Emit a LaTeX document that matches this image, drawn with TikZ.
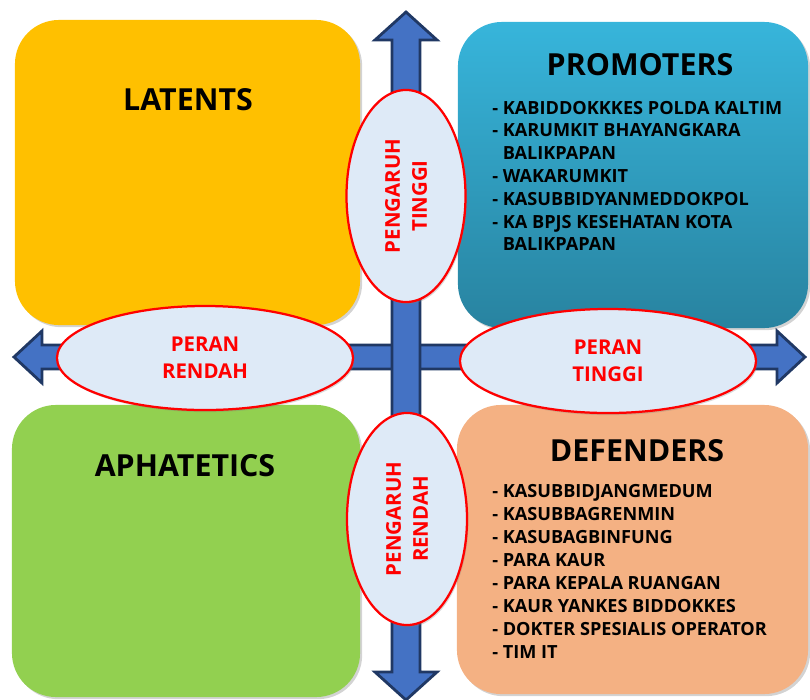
\documentclass[tikz,border=0pt]{standalone}
\usepackage{fontspec}
\setsansfont{Open Sans}
\usepackage{tikz}
\usetikzlibrary{shapes.geometric,shadows,positioning}

\definecolor{latentY}{HTML}{FFC000}
\definecolor{promTop}{HTML}{37B5DB}
\definecolor{promBot}{HTML}{2883A0}
\definecolor{aphG}{HTML}{92D050}
\definecolor{defO}{HTML}{F4B183}
\definecolor{ovalFill}{HTML}{DEEAF7}
\definecolor{arrowFill}{HTML}{4472C4}
\definecolor{arrowLine}{HTML}{203864}

\begin{document}
\begin{tikzpicture}[
  x=0.025cm, y=-0.025cm,
  quad/.style={rounded corners=1.1cm, inner sep=0pt, drop shadow={shadow xshift=1.5pt, shadow yshift=-1.5pt, opacity=0.35}},
  oval/.style={ellipse, draw=red, line width=1.6pt, fill=ovalFill, inner sep=0pt, align=center, text=red,
    font=\sffamily\bfseries\fontsize{14.5}{19.2}\selectfont, drop shadow={shadow xshift=1pt, shadow yshift=-1.5pt, opacity=0.3}},
  bigarrow/.style={fill=arrowFill, draw=arrowLine, line width=2pt, line join=miter},
  title/.style={font=\sffamily\bfseries\fontsize{21.6}{26}\selectfont, inner sep=0pt},
  item/.style={font=\sffamily\bfseries\fontsize{12.9}{15}\selectfont, inner sep=0pt, anchor=base west}
]
  \useasboundingbox (0,0) rectangle (810,699);

  % Quadrants
  \node[quad, fill=latentY, minimum width=8.625cm, minimum height=7.625cm] (latents) at (187.5,172.5) {};
  \node[quad, top color=promTop, bottom color=promBot, minimum width=8.75cm, minimum height=7.65cm] (promoters) at (633,175) {};
  \node[quad, fill=aphG, minimum width=8.7cm, minimum height=7.3cm] (aphatetics) at (186,551) {};
  \node[quad, fill=defO, minimum width=8.775cm, minimum height=7.225cm] (defenders) at (632.5,549.5) {};

  % Titles
  \node[title] (tLat) at (188,100) {LATENTS};
  \node[title] (tProm) at (640,65) {PROMOTERS};
  \node[title] (tAph) at (185,466) {APHATETICS};
  \node[title] (tDef) at (637,451) {DEFENDERS};

  % Lists
  \foreach \i/\t in {0/{- KABIDDOKKKES POLDA KALTIM}, 1/{- KARUMKIT BHAYANGKARA}, 2/{\phantom{- }BALIKPAPAN},
                     3/{- WAKARUMKIT}, 4/{- KASUBBIDYANMEDDOKPOL}, 5/{- KA BPJS KESEHATAN KOTA}, 6/{\phantom{- }BALIKPAPAN}} {
    \node[item] (p\i) at (492, 114+22.8*\i) {\t};
  }
  \foreach \i/\t in {0/{- KASUBBIDJANGMEDUM}, 1/{- KASUBBAGRENMIN}, 2/{- KASUBAGBINFUNG}, 3/{- PARA KAUR},
                     4/{- PARA KEPALA RUANGAN}, 5/{- KAUR YANKES BIDDOKKES}, 6/{- DOKTER SPESIALIS OPERATOR}, 7/{- TIM IT}} {
    \node[item] (d\i) at (492, 497+23*\i) {\t};
  }

  % Axes
  \draw[bigarrow] (14,357) -- (42,331) -- (42,345) -- (777,345) -- (777,331) -- (805,357)
    -- (777,383) -- (777,369) -- (42,369) -- (42,383) -- cycle;
  \draw[bigarrow] (406,12) -- (437,40) -- (420,40) -- (420,672) -- (437,672) -- (406,700)
    -- (375,672) -- (392,672) -- (392,40) -- (375,40) -- cycle;

  % Ovals
  \node[oval, minimum width=7.4cm, minimum height=2.6cm] (peranR) at (205,358) {PERAN\\RENDAH};
  \node[oval, minimum width=7.4cm, minimum height=2.6cm] (peranT) at (608,361) {PERAN\\TINGGI};
  \node[oval, rotate=90, minimum width=5.3cm, minimum height=2.975cm] (pengT) at (406,196) {PENGARUH\\TINGGI};
  \node[oval, rotate=90, minimum width=5.3cm, minimum height=3cm] (pengR) at (407,519) {PENGARUH\\RENDAH};
\end{tikzpicture}
\end{document}
